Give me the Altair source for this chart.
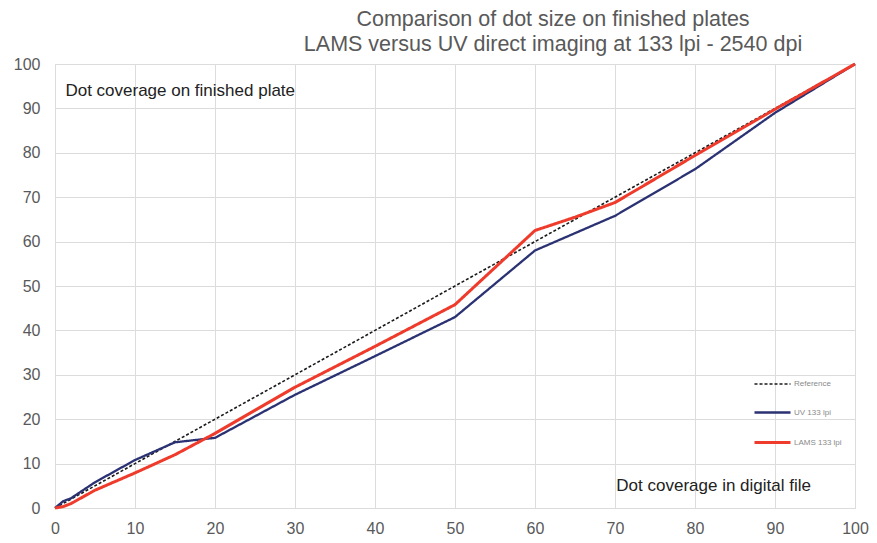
import altair as alt
import pandas as pd

# ---- data ----
series_names = ["Reference", "UV 133 lpi", "LAMS 133 lpi"]
series_colors = ["#1a1a1a", "#2b3273", "#ee3b2b"]

ref_x = [0, 100]
ref_y = [0, 100]

uv_x = [0, 1, 2, 5, 10, 15, 20, 30, 40, 50, 60, 70, 80, 90, 100]
uv_y = [0, 1.5, 2.2, 5.8, 10.8, 14.8, 15.8, 25.5, 34.2, 43, 58, 65.8, 76.3, 89, 100]

lams_x = [0, 1, 2, 5, 10, 15, 20, 30, 40, 50, 60, 65, 70, 80, 90, 100]
lams_y = [0, 0.3, 1, 4, 7.9, 12, 16.8, 27.2, 36.4, 45.8, 62.5, 65.5, 68.8, 79.4, 89.8, 100]

x_ticks = list(range(0, 101, 10))
y_ticks = list(range(0, 101, 10))

title_lines = ["Comparison of dot size on finished plates",
               "LAMS versus UV direct imaging at 133 lpi - 2540 dpi"]
ann_left_text = ["Dot coverage on finished plate"]
ann_left_x = [1.3]
ann_left_y = [94.0]
ann_right_text = ["Dot coverage in digital file"]
ann_right_x = [94.5]
ann_right_y = [4.9]

# ---- tables ----
rows = []
for name, xs, ys in [(series_names[0], ref_x, ref_y),
                     (series_names[1], uv_x, uv_y),
                     (series_names[2], lams_x, lams_y)]:
    for i, (a, b) in enumerate(zip(xs, ys)):
        rows.append({"series": name, "x": a, "y": b, "i": i})
df = pd.DataFrame(rows)
ann_l = pd.DataFrame({"text": ann_left_text, "x": ann_left_x, "y": ann_left_y})
ann_r = pd.DataFrame({"text": ann_right_text, "x": ann_right_x, "y": ann_right_y})

FONT = "Liberation Sans"
sc = alt.Scale(domain=[0, 100], nice=False)

x_enc = alt.X("x:Q", scale=sc,
              axis=alt.Axis(values=x_ticks, title=None, labelFontSize=16, labelColor="#595959",
                            labelFont=FONT, labelPadding=12, ticks=False, domain=False,
                            grid=True, gridColor="#dcdcdc", gridWidth=1, labelFlush=False))
y_enc = alt.Y("y:Q", scale=sc,
              axis=alt.Axis(values=y_ticks, title=None, labelFontSize=16, labelColor="#595959",
                            labelFont=FONT, labelPadding=15, ticks=False, domain=False,
                            grid=True, gridColor="#dcdcdc", gridWidth=1, labelFlush=False))

leg = dict(title=None, orient="none", legendX=698, legendY=301,
           symbolType="stroke", symbolSize=1296, symbolStrokeWidth=2.5,
           rowPadding=5, labelFontSize=8, labelColor="#8a8a8a",
           labelFont=FONT, labelOffset=2)

lines = alt.Chart(df).mark_line(interpolate="linear").encode(
    x=x_enc,
    y=y_enc,
    order="i:Q",
    color=alt.Color("series:N", scale=alt.Scale(domain=series_names, range=series_colors),
                    legend=alt.Legend(**leg)),
    strokeDash=alt.StrokeDash("series:N", scale=alt.Scale(domain=series_names,
                                                          range=[[3, 2], [1, 0], [1, 0]]),
                              legend=alt.Legend(**leg)),
    strokeWidth=alt.StrokeWidth("series:N", scale=alt.Scale(domain=series_names,
                                                            range=[1.6, 3, 3]), legend=None),
)

ann1 = alt.Chart(ann_l).mark_text(font=FONT, fontSize=17, color="#222222",
                                  baseline="middle", align="left").encode(
    x=alt.X("x:Q", scale=sc), y=alt.Y("y:Q", scale=sc), text="text:N")
ann2 = alt.Chart(ann_r).mark_text(font=FONT, fontSize=17, color="#222222",
                                  baseline="middle", align="right").encode(
    x=alt.X("x:Q", scale=sc), y=alt.Y("y:Q", scale=sc), text="text:N")

chart = alt.layer(lines, ann1, ann2).properties(
    width=800,
    height=444,
    title=alt.TitleParams(text=title_lines, fontSize=21.5, font=FONT, fontWeight="normal",
                          color="#595959", anchor="middle", dx=98, lineHeight=25, offset=1),
    autosize=alt.AutoSizeParams(type="none"),
    padding={"left": 47, "top": 56, "right": 14, "bottom": 34},
).configure_view(stroke=None).configure(background="white")

chart.save("out.html", embed_options={"renderer": "svg", "actions": False})
